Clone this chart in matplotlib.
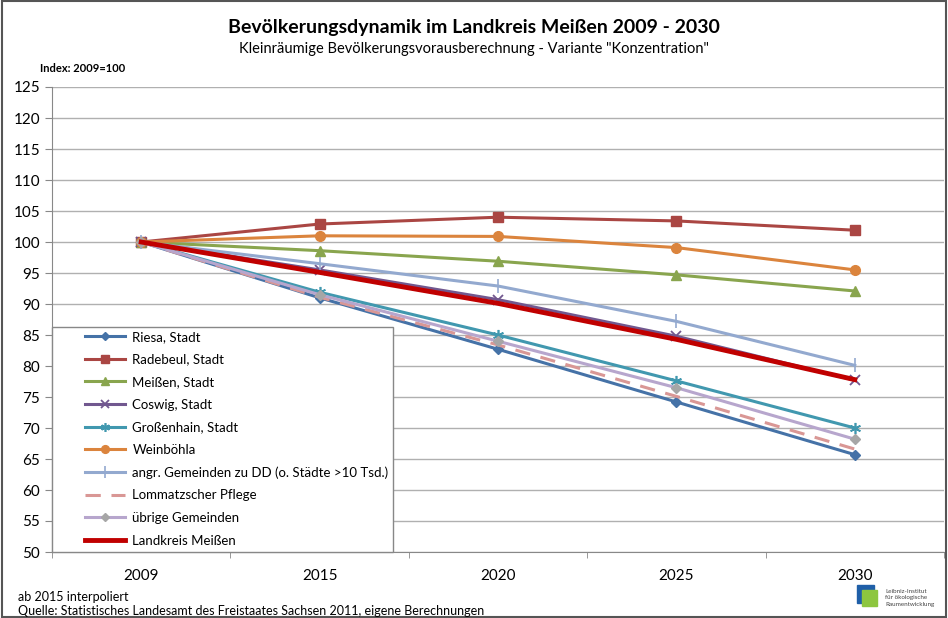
import matplotlib.pyplot as plt
import matplotlib.patches as mpatches
import numpy as np

plt.rcParams['font.family'] = ['Lato', 'DejaVu Sans']

years = ["2009", "2015", "2020", "2025", "2030"]

riesa = [100, 91.0, 82.7, 74.2, 65.7]
radebeul = [100, 102.9, 104.0, 103.4, 101.9]
meissen = [100, 98.6, 96.9, 94.7, 92.1]
coswig = [100, 95.5, 90.7, 84.8, 77.7]
grossenhain = [100, 91.9, 85.0, 77.6, 70.0]
weinboehla = [100, 101.0, 100.9, 99.1, 95.5]
angr = [100, 96.5, 92.9, 87.2, 80.1]
lommatzsch = [100, 91.1, 83.4, 75.1, 66.6]
uebrige = [100, 91.5, 84.0, 76.5, 68.2]
landkreis = [100, 95.1, 90.1, 84.3, 77.8]

fig = plt.figure(figsize=(9.48, 6.18), dpi=100)
ax = fig.add_axes([52 / 948, 66 / 618, 892 / 948, 465 / 618])

x = np.arange(len(years))

ax.plot(x, riesa, color="#4572A7", lw=2.2, marker="D", ms=5.5, label="Riesa, Stadt")
ax.plot(x, radebeul, color="#AA4643", lw=2.2, marker="s", ms=7, label="Radebeul, Stadt")
ax.plot(x, meissen, color="#89A54E", lw=2.2, marker="^", ms=7, label="Meißen, Stadt")
ax.plot(x, coswig, color="#71588F", lw=2.2, marker="x", ms=7, mew=1.3, label="Coswig, Stadt")
ax.plot(x, grossenhain, color="#4198AF", lw=2.2, marker=(6, 2, 0), ms=8, mew=1.2, label="Großenhain, Stadt")
ax.plot(x, weinboehla, color="#DB843D", lw=2.2, marker="o", ms=7, label="Weinböhla")
ax.plot(x, angr, color="#93A9CF", lw=2.2, marker="|", ms=10, mew=1.2, label="angr. Gemeinden zu DD (o. Städte >10 Tsd.)")
ax.plot(x, lommatzsch, color="#D99795", lw=2.2, ls=(0, (5, 3.5)), label="Lommatzscher Pflege")
ax.plot(x, uebrige, color="#B7A6CD", lw=2.2, marker="D", ms=5.5, mfc="#A6A6A6", mec="#A6A6A6", label="übrige Gemeinden")
ax.plot(x, landkreis, color="#C00000", lw=3.5, label="Landkreis Meißen")

ax.set_xlim(-0.5, len(years) - 0.5)
ax.set_ylim(50, 125)
ax.set_yticks(np.arange(50, 126, 5))
ax.set_xticks(x)
ax.set_xticklabels(years)
ax.set_xticks(np.arange(-0.5, len(years), 1), minor=True)
ax.tick_params(axis="x", which="major", length=0, pad=12, labelsize=11)
ax.tick_params(axis="x", which="minor", length=4, color="#888888")
ax.tick_params(axis="y", length=5, color="#888888", labelsize=11)
ax.grid(axis="y", color="#B0B0B0", lw=1)
ax.set_axisbelow(True)
for s in ["top", "right"]:
    ax.spines[s].set_visible(False)
ax.spines["left"].set_color("#888888")
ax.spines["bottom"].set_color("#888888")

# legend box drawn separately so the entries can sit indented inside it
box = mpatches.Rectangle((52 / 948, 66 / 618), 341 / 948, 225 / 618, transform=fig.transFigure,
                         facecolor="white", edgecolor="#888888", lw=1, zorder=5)
fig.patches.append(box)
leg = fig.legend(*ax.get_legend_handles_labels(), loc="upper left",
                 bbox_to_anchor=(81 / 948, 1 - 327 / 618), frameon=False,
                 fontsize=9.5, handlelength=3.0, borderpad=0.3, labelspacing=0.8,
                 borderaxespad=0, handletextpad=0.6, markerscale=0.8)
leg.set_zorder(6)

fig.text(0.5, 1 - 28 / 618, "Bevölkerungsdynamik im Landkreis Meißen 2009 - 2030",
         ha="center", va="center", fontsize=14, fontweight="bold")
fig.text(0.5, 1 - 49 / 618, 'Kleinräumige Bevölkerungsvorausberechnung - Variante "Konzentration"',
         ha="center", va="center", fontsize=10.5)
fig.text(40 / 948, 1 - 68 / 618, "Index: 2009=100", ha="left", va="center",
         fontsize=8, fontweight="bold")
fig.text(18 / 948, 1 - 597 / 618, "ab 2015 interpoliert", ha="left", va="center", fontsize=9)
fig.text(18 / 948, 1 - 611 / 618,
         "Quelle: Statistisches Landesamt des Freistaates Sachsen 2011, eigene Berechnungen",
         ha="left", va="center", fontsize=9)

# logo
fig.patches.append(mpatches.Rectangle((857 / 948, 1 - 603 / 618), 17 / 948, 18 / 618,
                                      transform=fig.transFigure, color="#1F5FA8"))
fig.patches.append(mpatches.Rectangle((862 / 948, 1 - 606 / 618), 15 / 948, 16 / 618,
                                      transform=fig.transFigure, color="#8DC63F"))
fig.text(885 / 948, 1 - 598 / 618, "Leibniz-Institut\nfür ökologische\nRaumentwicklung",
         ha="left", va="center", fontsize=4.5, color="#444444", linespacing=1.3)

# outer border
fig.patches.append(mpatches.Rectangle((0.002, 0.002), 0.996, 0.996, transform=fig.transFigure,
                                      fill=False, ec="#555555", lw=1.5))

fig.savefig("out.png", dpi=100)
